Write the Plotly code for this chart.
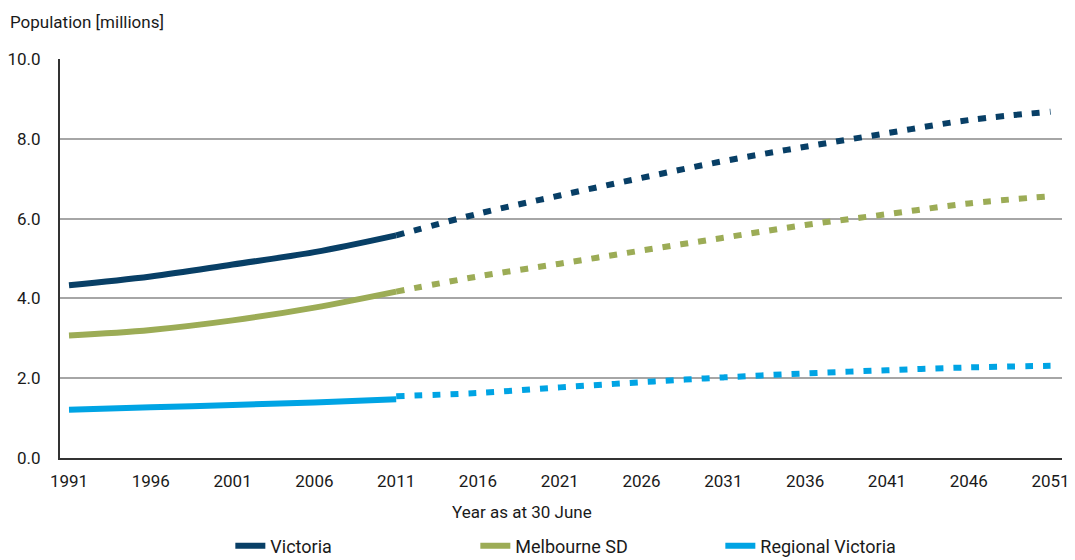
import plotly.graph_objects as go

years_hist = [1991, 1996, 2001, 2006, 2011]
years_proj = [2011, 2016, 2021, 2026, 2031, 2036, 2041, 2046, 2051]

victoria_hist = [4.33, 4.55, 4.85, 5.16, 5.58]
victoria_proj = [5.58, 6.12, 6.58, 7.02, 7.44, 7.80, 8.14, 8.47, 8.68]

melbourne_hist = [3.07, 3.21, 3.45, 3.77, 4.17]
melbourne_proj = [4.17, 4.55, 4.87, 5.20, 5.52, 5.84, 6.11, 6.38, 6.56]

regional_hist = [1.21, 1.27, 1.33, 1.39, 1.47]
regional_proj = [1.55, 1.63, 1.77, 1.90, 2.02, 2.12, 2.20, 2.27, 2.31]

series_names = ["Victoria", "Melbourne SD", "Regional Victoria"]
colors = ["#083f66", "#9cac56", "#00a4e4"]
x_ticks = list(range(1991, 2052, 5))
y_ticks = [0, 2, 4, 6, 8, 10]

FONT = "Roboto, Liberation Sans Narrow, sans-serif"

fig = go.Figure()
hist = [victoria_hist, melbourne_hist, regional_hist]
proj = [victoria_proj, melbourne_proj, regional_proj]
for name, col, h, p in zip(series_names, colors, hist, proj):
    fig.add_trace(go.Scatter(x=years_hist, y=h, mode="lines", name=name,
                             line=dict(color=col, width=6, shape="spline"),
                             legendgroup=name, showlegend=True))
    fig.add_trace(go.Scatter(x=years_proj, y=p, mode="lines", name=name,
                             line=dict(color=col, width=6, dash="8px,10px", shape="spline"),
                             legendgroup=name, showlegend=False))

fig.update_layout(
    width=1075, height=560,
    margin=dict(l=60, r=13, t=59, b=102, autoexpand=False),
    paper_bgcolor="white", plot_bgcolor="white",
    font=dict(family=FONT, size=17, color="#1a1a1a"),
    showlegend=True,
    legend=dict(orientation="h", x=0.17, xanchor="left", yref="container",
                y=0.025, yanchor="middle",
                entrywidth=200, entrywidthmode="pixels",
                font=dict(size=18, family=FONT)),
    annotations=[
        dict(text="Population [millions]", xref="paper", yref="paper",
             x=-0.052, y=1.093, xanchor="left", yanchor="middle",
             showarrow=False, font=dict(size=17, family=FONT)),
        dict(text="Year as at 30 June", xref="paper", yref="paper",
             x=(522 - 60) / 1002, y=-54 / 399, xanchor="center", yanchor="middle",
             showarrow=False, font=dict(size=17, family=FONT)),
    ],
)
fig.update_xaxes(range=[1990.45, 2051.7], tickvals=x_ticks, ticktext=[str(v) for v in x_ticks],
                 showgrid=False, showline=True, linecolor="#333333", linewidth=2,
                 zeroline=False, ticks="", tickfont=dict(size=17), automargin=False,
                 ticklabelstandoff=7)
fig.update_yaxes(range=[0, 10], tickvals=y_ticks, ticktext=[f"{v:.1f}" for v in y_ticks],
                 showgrid=True, gridcolor="#a6a6a6", gridwidth=1.5,
                 showline=True, linecolor="#333333", linewidth=2, automargin=False,
                 zeroline=False, ticks="", tickfont=dict(size=17), ticklabelstandoff=14)

fig.write_html("out.html", config={"displayModeBar": False},
               post_script="document.body.style.margin='0';")
